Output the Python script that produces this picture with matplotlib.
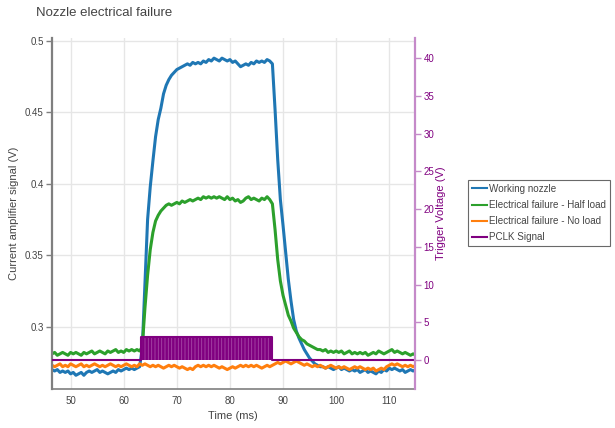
import numpy as np
import matplotlib
matplotlib.use("Agg")
import matplotlib.pyplot as plt
from matplotlib.ticker import FormatStrFormatter

plt.rcParams['font.family'] = ['Liberation Sans', 'DejaVu Sans']
plt.rcParams['hatch.linewidth'] = 0.6

# time axis, 0.5 ms sampling of the traces
time_ms = np.arange(46.5, 115.01, 0.5)

working_nozzle = [
    0.270, 0.269, 0.270, 0.268, 0.269, 0.268, 0.269, 0.267, 0.268, 0.266,
    0.267, 0.268, 0.266, 0.268, 0.269, 0.268, 0.269, 0.270, 0.268, 0.269,
    0.268, 0.267, 0.268, 0.269, 0.268, 0.270, 0.269, 0.270, 0.271, 0.270,
    0.271, 0.270, 0.271, 0.272, 0.285, 0.330, 0.375, 0.398, 0.416, 0.433,
    0.445, 0.453, 0.463, 0.469, 0.473, 0.476, 0.478, 0.480, 0.481, 0.482,
    0.483, 0.484, 0.483, 0.485, 0.484, 0.485, 0.484, 0.486, 0.485, 0.487,
    0.486, 0.488, 0.487, 0.486, 0.488, 0.487, 0.486, 0.487, 0.485, 0.486,
    0.484, 0.482, 0.483, 0.484, 0.483, 0.485, 0.484, 0.486, 0.485, 0.486,
    0.485, 0.487, 0.486, 0.484, 0.452, 0.417, 0.389, 0.371, 0.352, 0.333,
    0.318, 0.305, 0.297, 0.292, 0.288, 0.284, 0.281, 0.278, 0.276, 0.274,
    0.273, 0.272, 0.272, 0.271, 0.272, 0.271, 0.270, 0.271, 0.272, 0.270,
    0.271, 0.270, 0.269, 0.270, 0.269, 0.270, 0.268, 0.269, 0.270, 0.268,
    0.269, 0.268, 0.267, 0.269, 0.268, 0.270, 0.269, 0.271, 0.270, 0.271,
    0.270, 0.269, 0.270, 0.268, 0.269, 0.270, 0.269, 0.270,
]

half_load = [
    0.281, 0.282, 0.280, 0.281, 0.282, 0.281, 0.280, 0.282, 0.281, 0.282,
    0.281, 0.280, 0.282, 0.281, 0.282, 0.283, 0.281, 0.282, 0.283, 0.282,
    0.281, 0.283, 0.282, 0.283, 0.284, 0.282, 0.283, 0.282, 0.284, 0.283,
    0.284, 0.283, 0.284, 0.283, 0.286, 0.313, 0.336, 0.354, 0.366, 0.374,
    0.378, 0.381, 0.383, 0.385, 0.386, 0.385, 0.386, 0.387, 0.386, 0.388,
    0.387, 0.388, 0.389, 0.388, 0.389, 0.390, 0.389, 0.391, 0.390, 0.391,
    0.390, 0.391, 0.390, 0.391, 0.390, 0.389, 0.391, 0.389, 0.390, 0.388,
    0.389, 0.387, 0.388, 0.390, 0.391, 0.389, 0.390, 0.389, 0.388, 0.390,
    0.389, 0.391, 0.389, 0.386, 0.368, 0.347, 0.332, 0.322, 0.315, 0.308,
    0.304, 0.299, 0.296, 0.293, 0.291, 0.290, 0.288, 0.287, 0.286, 0.285,
    0.284, 0.284, 0.283, 0.284, 0.282, 0.283, 0.282, 0.283, 0.282, 0.283,
    0.281, 0.282, 0.283, 0.281, 0.282, 0.281, 0.282, 0.281, 0.282, 0.280,
    0.281, 0.282, 0.281, 0.283, 0.282, 0.281, 0.282, 0.283, 0.284, 0.282,
    0.283, 0.282, 0.281, 0.282, 0.281, 0.280, 0.281, 0.280,
]

no_load = [
    0.273, 0.272, 0.273, 0.274, 0.272, 0.273, 0.272, 0.274, 0.273, 0.272,
    0.273, 0.274, 0.272, 0.273, 0.272, 0.273, 0.274, 0.273, 0.272, 0.273,
    0.272, 0.273, 0.274, 0.273, 0.272, 0.273, 0.272, 0.273, 0.274, 0.273,
    0.272, 0.273, 0.272, 0.274, 0.273, 0.274, 0.273, 0.272, 0.273, 0.272,
    0.273, 0.272, 0.271, 0.272, 0.273, 0.272, 0.273, 0.272, 0.271, 0.272,
    0.271, 0.270, 0.271, 0.270, 0.272, 0.273, 0.272, 0.273, 0.272, 0.273,
    0.272, 0.273, 0.272, 0.271, 0.272, 0.271, 0.270, 0.271, 0.272, 0.271,
    0.272, 0.273, 0.272, 0.273, 0.272, 0.273, 0.272, 0.273, 0.272, 0.271,
    0.272, 0.273, 0.272, 0.273, 0.274, 0.275, 0.274, 0.275, 0.276, 0.275,
    0.274, 0.275, 0.276, 0.275, 0.274, 0.273, 0.274, 0.273, 0.272, 0.273,
    0.272, 0.273, 0.272, 0.271, 0.272, 0.273, 0.272, 0.271, 0.272, 0.271,
    0.272, 0.271, 0.270, 0.271, 0.272, 0.271, 0.272, 0.271, 0.270, 0.271,
    0.270, 0.271, 0.269, 0.270, 0.271, 0.270, 0.272, 0.273, 0.274, 0.273,
    0.274, 0.273, 0.272, 0.273, 0.272, 0.273, 0.272, 0.273,
]

# PCLK trigger (right axis, volts): low, pulse train, low
pclk_time = [46.5, 63.3, 63.3, 88.0, 88.0, 115.0]
pclk_volts = [0.0, 0.0, 3.1, 3.1, 0.0, 0.0]

series_names = ["Working nozzle", "Electrical failure - Half load",
                "Electrical failure - No load", "PCLK Signal"]
colors = ["#1f77b4", "#2ca02c", "#ff7f0e", "#800080"]

fig = plt.figure(figsize=(6.15, 4.28), dpi=100)
ax = fig.add_axes([52 / 615, 1 - 389 / 428, 363 / 615, 351 / 428])
ax2 = ax.twinx()

handles = []
for vals, name, c in zip([working_nozzle, half_load, no_load], series_names[:3], colors[:3]):
    h, = ax.plot(time_ms, vals, color=c, lw=2.2, label=name)
    handles.append(h)

# pulse train block: solid purple with lighter vertical stripes
ax2.fill_between(pclk_time, 0, pclk_volts, facecolor="#800080", edgecolor="#a748a7",
                 hatch="|||||", lw=0)
h, = ax2.plot(pclk_time, pclk_volts, color=colors[3], lw=1.5, label=series_names[3])
handles.append(h)

ax.set_xlim(46.5, 114.85)
ax.set_ylim(0.2564, 0.5021)
ax2.set_ylim(-3.85, 42.7)

ax.set_xticks([50, 60, 70, 80, 90, 100, 110])
ax.set_yticks([0.3, 0.35, 0.4, 0.45, 0.5])
ax.yaxis.set_major_formatter(FormatStrFormatter('%g'))
ax2.set_yticks([0, 5, 10, 15, 20, 25, 30, 35, 40])

ax.grid(True, color="#e6e6e6", lw=1)
ax.set_axisbelow(True)

ax.spines["top"].set_visible(False)
ax.spines["right"].set_visible(False)
for spine in ["top", "left", "bottom"]:
    ax2.spines[spine].set_visible(False)
ax.spines["left"].set_color("#7f7f7f")
ax.spines["left"].set_linewidth(1.6)
ax.spines["bottom"].set_color("#7f7f7f")
ax.spines["bottom"].set_linewidth(1.2)
ax2.spines["right"].set_color("#c58ac9")
ax2.spines["right"].set_linewidth(1.6)

ax.tick_params(axis="y", length=4, width=1, color="#7f7f7f", labelsize=7, labelcolor="#444444", pad=2)
ax.tick_params(axis="x", length=0, labelsize=7, labelcolor="#444444", pad=5)
ax2.tick_params(axis="y", length=4, width=1, color="#c58ac9", labelsize=7, labelcolor="#800080", pad=2)

fig.text(36 / 615, 1 - 13 / 428, "Nozzle electrical failure", fontsize=9.5, color="#444444", va="center")
fig.text(14 / 615, 1 - 213 / 428, "Current amplifier signal (V)", fontsize=8, color="#444444",
         rotation=90, ha="center", va="center")
fig.text(233 / 615, 1 - 416 / 428, "Time (ms)", fontsize=8, color="#444444", ha="center", va="center")
fig.text(441 / 615, 1 - 213 / 428, "Trigger Voltage (V)", fontsize=8, color="#800080",
         rotation=90, ha="center", va="center")

leg = fig.legend(handles, series_names, loc="upper left", bbox_to_anchor=(468 / 615, 1 - 180 / 428),
                 fontsize=7.1, frameon=True, fancybox=False, handlelength=1.5, handletextpad=0.25,
                 borderpad=0.4, labelspacing=0.62, borderaxespad=0)
leg.get_frame().set_edgecolor("#444444")
leg.get_frame().set_linewidth(0.8)
for t in leg.get_texts():
    t.set_color("#444444")
for line in leg.get_lines():
    line.set_linewidth(1.5)

fig.savefig("out.png", dpi=100)
